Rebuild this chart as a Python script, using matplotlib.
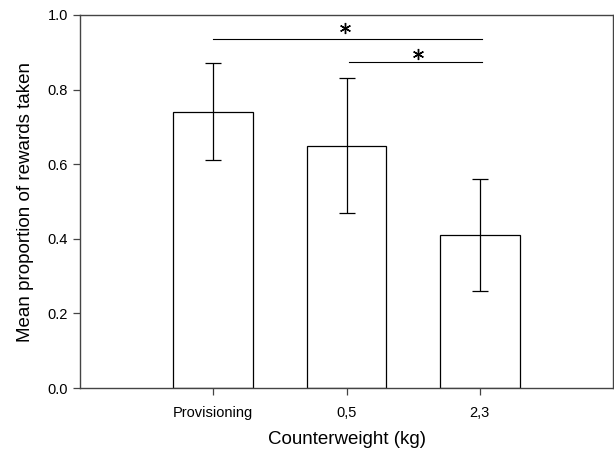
import matplotlib
matplotlib.use("Agg")
import matplotlib.pyplot as plt

categories = ["Provisioning", "0,5", "2,3"]
means = [0.74, 0.65, 0.41]
errors = [0.13, 0.18, 0.15]
yticks = [0.0, 0.2, 0.4, 0.6, 0.8, 1.0]
# (start bar index, end bar index, line height, star x, star y)
sig_lines = [(0, 2, 0.935, 1.99, 0.966), (1, 2, 0.875, 2.54, 0.895)]

plt.rcParams['font.family'] = ['Liberation Sans', 'DejaVu Sans']

fig = plt.figure(figsize=(6.14, 4.55), dpi=100)
ax = fig.add_axes([80/614, 1 - 388/455, 533/614, 373/455])

x = [1, 2, 3]
ax.bar(x, means, width=0.6, color='white', edgecolor='black', linewidth=0.9, zorder=2)
ax.errorbar(x, means, yerr=errors, fmt='none', ecolor='black', elinewidth=0.9,
            capsize=6, capthick=0.9, zorder=3)

for i, j, y, sx, sy in sig_lines:
    xa = x[i] + (0.02 if i == 1 else 0.0)
    xb = x[j] + 0.02
    ax.plot([xa, xb], [y, y], color='black', linewidth=0.8)
    ax.plot([sx], [sy], marker=(6, 2, 0), markersize=8, markeredgewidth=1.0,
            color='black', linestyle='none', clip_on=False)

ax.set_xlim(0, 4)
ax.set_ylim(0, 1.0)
ax.set_xticks(x)
ax.set_xticklabels(categories, fontsize=10.5)
ax.set_yticks(yticks)
ax.set_yticklabels([f"{v:.1f}" for v in yticks], fontsize=10.5)
ax.tick_params(axis='both', direction='out', length=5, width=0.9, color='#444444')
ax.tick_params(axis='x', pad=8)
for s in ax.spines.values():
    s.set_linewidth(1.0)
    s.set_color('#444444')

ax.set_xlabel("Counterweight (kg)", fontsize=13.5, labelpad=8)
ax.set_ylabel("Mean proportion of rewards taken", fontsize=13.5, labelpad=10)

fig.savefig("out.png", dpi=100)
